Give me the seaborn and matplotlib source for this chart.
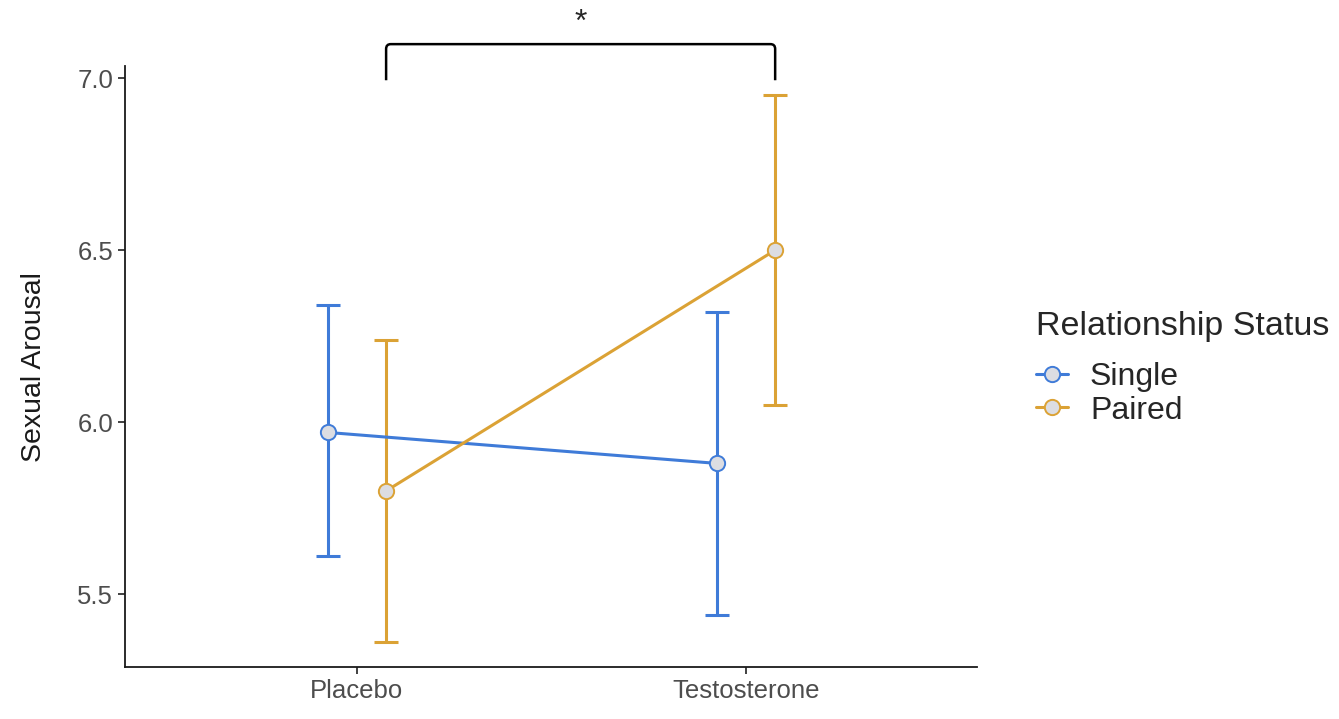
import pandas as pd
import seaborn as sns
from matplotlib import pyplot as plt
from matplotlib.lines import Line2D
from matplotlib.path import Path
from matplotlib.patches import PathPatch

treatments = ["Placebo", "Testosterone"]
statuses = ["Single", "Paired"]
single_mean = [5.97, 5.88]
single_low = [5.61, 5.44]
single_high = [6.34, 6.32]
paired_mean = [5.80, 6.50]
paired_low = [5.36, 6.05]
paired_high = [6.24, 6.95]

colors = {"Single": "#3f7bd8", "Paired": "#dba235"}
marker_fill = "#dcdde2"


def make_plot():
    sns.set_theme(style="ticks")
    plt.rcParams["font.family"] = ["Liberation Sans", "DejaVu Sans"]

    df = pd.DataFrame({
        "Treatment": treatments * 2,
        "Status": ["Single"] * 2 + ["Paired"] * 2,
        "Arousal": single_mean + paired_mean,
    })
    lows = {"Single": single_low, "Paired": paired_low}
    highs = {"Single": single_high, "Paired": paired_high}
    means = {"Single": single_mean, "Paired": paired_mean}

    fig = plt.figure(figsize=(13.39, 7.19), dpi=100)
    ax = fig.add_axes([0.0934, 0.0723, 0.6363, 0.8357])

    sns.pointplot(data=df, x="Treatment", y="Arousal", hue="Status",
                  hue_order=statuses, order=treatments, dodge=0.15,
                  errorbar=None, palette=colors, markers="o", linestyles="-",
                  legend=False, ax=ax)

    for line, status in zip(ax.lines[:2], statuses):
        line.set_linewidth(2.2)
        line.set_markersize(11)
        line.set_markerfacecolor(marker_fill)
        line.set_markeredgecolor(colors[status])
        line.set_markeredgewidth(1.4)
        line.set_zorder(4)
        xs = line.get_xdata()
        m = means[status]
        err = [[a - b for a, b in zip(m, lows[status])],
               [b - a for a, b in zip(m, highs[status])]]
        ax.errorbar(xs, m, yerr=err, fmt="none", ecolor=colors[status],
                    elinewidth=2.2, capsize=8.5, capthick=2.2, zorder=2)

    ax.set_xlim(-0.596, 1.594)
    ax.set_ylim(5.288, 7.035)
    ax.set_yticks([5.5, 6.0, 6.5, 7.0])
    ax.set_xlabel("")
    ax.set_ylabel("Sexual Arousal", fontsize=20.5, color="#1a1a1a", labelpad=22)
    ax.tick_params(labelsize=18.5, labelcolor="#4d4d4d", color="#333333",
                   length=5, width=1.3)
    for side in ["top", "right"]:
        ax.spines[side].set_visible(False)
    for side in ["left", "bottom"]:
        ax.spines[side].set_linewidth(1.3)
        ax.spines[side].set_color("#1a1a1a")

    # significance bracket between the paired points, slightly rounded corners
    px = ax.lines[1].get_xdata()
    x0, x1 = px[0], px[1]
    y0, y1 = 6.994, 7.099
    rx, ry = 0.012, 0.014
    verts = [(x0, y0), (x0, y1 - ry), (x0, y1), (x0 + rx, y1),
             (x1 - rx, y1), (x1, y1), (x1, y1 - ry), (x1, y0)]
    codes = [Path.MOVETO, Path.LINETO, Path.CURVE3, Path.CURVE3,
             Path.LINETO, Path.CURVE3, Path.CURVE3, Path.LINETO]
    ax.add_patch(PathPatch(Path(verts, codes), facecolor="none",
                           edgecolor="black", lw=1.8, clip_on=False))
    ax.text((x0 + x1) / 2, 7.16, "*", ha="center", va="center",
            fontsize=23, clip_on=False)

    handles = [Line2D([], [], color=colors[s], lw=2.2, marker="o",
                      markersize=11, markerfacecolor=marker_fill,
                      markeredgecolor=colors[s], markeredgewidth=1.4)
               for s in statuses]
    leg = fig.legend(handles, statuses, title="Relationship Status",
                     loc="center left", bbox_to_anchor=(0.752, 0.488),
                     frameon=False, fontsize=23, title_fontsize=24.5,
                     handlelength=1.0, handletextpad=0.7, labelspacing=0.1)
    leg._legend_box.align = "left"
    leg._legend_box.sep = 15

    fig.savefig("out.png", dpi=100)


if __name__ == "__main__":
    make_plot()
